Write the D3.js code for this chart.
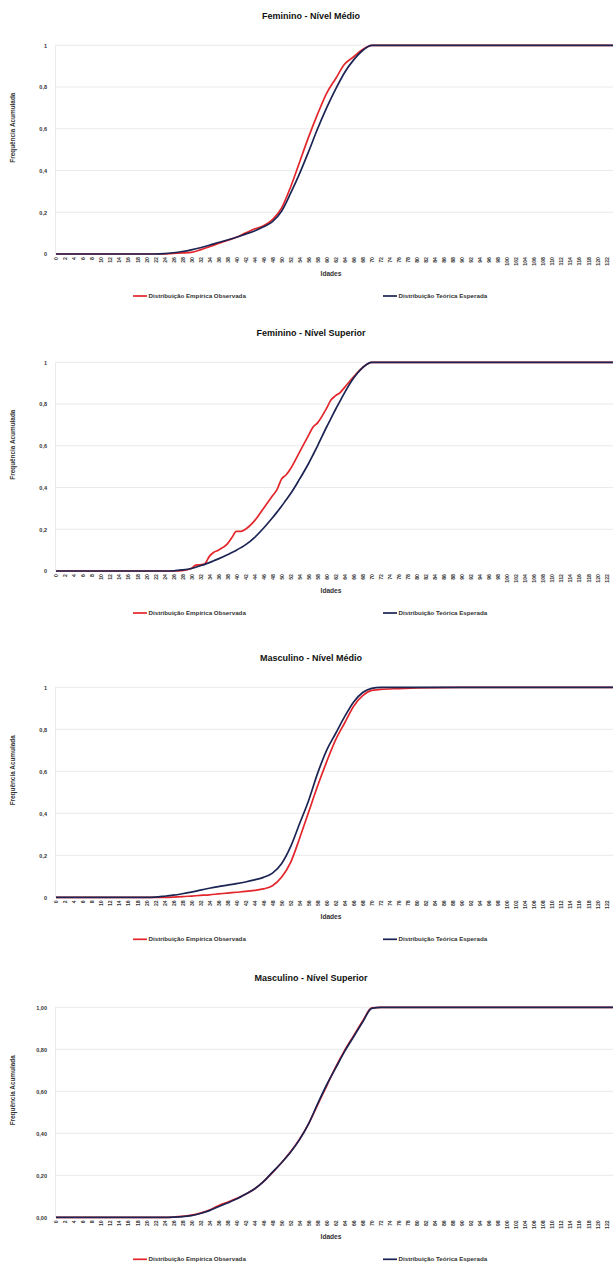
<!DOCTYPE html>
<html>
<head>
<meta charset="utf-8">
<script src="https://cdn.jsdelivr.net/npm/d3@7"></script>
<style>
  html, body { margin: 0; padding: 0; background: #fff; }
  svg { display: block; font-family: "Liberation Sans", Arial, sans-serif; }
</style>
</head>
<body>
<svg id="chart" width="613" height="1265"></svg>
<script>
// ---------- DATA ----------
const titles = ["Feminino - Nível Médio", "Feminino - Nível Superior", "Masculino - Nível Médio", "Masculino - Nível Superior"];
const seriesNames = ["Distribuição Empírica Observada", "Distribuição Teórica Esperada"];
const xAxisTitle = "Idades";
const yAxisTitle = "Frequência Acumulada";
const xTickLabels = [0,2,4,6,8,10,12,14,16,18,20,22,24,26,28,30,32,34,36,38,40,42,44,46,48,50,52,54,56,58,60,62,64,66,68,70,72,74,76,78,80,82,84,86,88,90,92,94,96,98,100,102,104,106,108,110,112,114,116,118,120,122];
const yTicks = [0, 0.2, 0.4, 0.6, 0.8, 1];

// Feminino - Nível Médio
const ages1 = [0,22,24,26,28,30,32,34,36,38,40,42,44,46,48,50,52,54,56,58,60,62,64,66,68,70,72,124];
const emp1  = [0,0,0,0.003,0.005,0.008,0.02,0.035,0.05,0.065,0.08,0.1,0.12,0.135,0.165,0.22,0.32,0.44,0.56,0.67,0.77,0.84,0.91,0.945,0.98,1,1,1];
const teo1  = [0,0,0.002,0.006,0.012,0.02,0.03,0.042,0.055,0.067,0.08,0.095,0.11,0.13,0.155,0.205,0.29,0.385,0.49,0.6,0.7,0.79,0.87,0.93,0.975,1,1,1];

// Feminino - Nível Superior
const ages2 = [0,24,26,28,30,31,32,33,34,35,36,38,39,40,41,42,44,46,48,49,50,51,52,54,56,57,58,60,61,62,63,64,66,68,70,72,124];
const emp2  = [0,0,0,0.002,0.012,0.028,0.03,0.035,0.07,0.09,0.1,0.13,0.16,0.19,0.19,0.2,0.24,0.3,0.36,0.39,0.44,0.46,0.49,0.57,0.65,0.69,0.71,0.78,0.82,0.84,0.855,0.88,0.93,0.975,1,1,1];
const teo2  = [0,0,0.001,0.005,0.012,0.018,0.025,0.032,0.04,0.049,0.058,0.078,0.089,0.1,0.112,0.125,0.16,0.205,0.255,0.282,0.31,0.34,0.37,0.44,0.515,0.557,0.6,0.69,0.732,0.775,0.815,0.855,0.925,0.975,1,1,1];

// Masculino - Nível Médio
const ages3 = [0,20,22,24,26,28,30,32,34,36,38,40,42,44,46,48,50,52,54,56,58,60,62,64,66,68,70,72,76,80,90,124];
const emp3  = [0,0,0,0,0.001,0.003,0.006,0.009,0.012,0.016,0.02,0.024,0.028,0.033,0.04,0.055,0.095,0.165,0.28,0.405,0.53,0.645,0.75,0.83,0.91,0.96,0.985,0.99,0.994,0.997,1,1];
const teo3  = [0,0,0.001,0.005,0.01,0.017,0.025,0.034,0.043,0.051,0.058,0.065,0.073,0.083,0.095,0.115,0.16,0.24,0.35,0.46,0.59,0.7,0.78,0.86,0.93,0.975,0.995,1,1,1,1,1];

// Masculino - Nível Superior
const ages4 = [0,24,26,28,30,32,34,36,38,40,42,44,46,48,50,52,54,56,58,60,62,64,66,68,70,72,124];
const emp4  = [0,0,0.001,0.004,0.01,0.02,0.034,0.055,0.072,0.089,0.11,0.135,0.17,0.213,0.26,0.312,0.372,0.445,0.535,0.625,0.715,0.795,0.865,0.935,0.997,1,1];
const teo4  = [0,0,0.001,0.003,0.008,0.018,0.032,0.05,0.068,0.087,0.11,0.135,0.17,0.215,0.26,0.31,0.37,0.445,0.54,0.63,0.71,0.79,0.86,0.93,0.995,1,1];

const panelAges = [ages1, ages2, ages3, ages4];
const panelEmp  = [emp1, emp2, emp3, emp4];
const panelTeo  = [teo1, teo2, teo3, teo4];
const yFormats  = [",", ",", ",", "2dec"];

// ---------- LAYOUT ----------
const colors = ["#e3262b", "#1b2453"];
const plotTops = [45.3, 362.3, 687.3, 1007.3];
const plotHeights = [208.7, 208.7, 210, 210];
const x0 = 56, pxPerAge = 4.51;

const svg = d3.select("#chart");
const fmtComma = v => (v === 0 ? "0" : v === 1 ? "1" : String(v).replace(".", ","));
const fmt2 = v => d3.format(".2f")(v).replace(".", ",");

titles.forEach((title, i) => {
  const top = plotTops[i], h = plotHeights[i], bottom = top + h;
  const x = d3.scaleLinear().domain([0, 124]).range([x0, x0 + 124 * pxPerAge]);
  const y = d3.scaleLinear().domain([0, 1]).range([bottom, top]);
  const g = svg.append("g");

  // title
  g.append("text").attr("x", 311).attr("y", top - 26)
    .attr("text-anchor", "middle").attr("font-size", 9).attr("font-weight", "bold")
    .attr("fill", "#111").text(title);

  // gridlines
  g.selectAll("line.grid").data(yTicks.filter(t => t > 0)).enter().append("line")
    .attr("x1", x(0) - 1).attr("x2", 613)
    .attr("y1", d => y(d)).attr("y2", d => y(d))
    .attr("stroke", "#e4e4e4").attr("stroke-width", 0.8);

  // y axis
  const fmt = yFormats[i] === "2dec" ? fmt2 : fmtComma;
  const yAxis = d3.axisLeft(y).tickValues(yTicks).tickFormat(fmt).tickSize(0).tickPadding(8);
  const ya = g.append("g").attr("transform", `translate(${x(0) - 1},0)`).call(yAxis);
  ya.select(".domain").attr("stroke", "#ddd").attr("stroke-width", 0.6);
  ya.selectAll("text").attr("font-size", 5.5).attr("font-weight", "bold")
    .attr("fill", "#333").attr("font-family", "Liberation Sans, Arial, sans-serif");

  // x axis
  const xAxis = d3.axisBottom(x).tickValues(xTickLabels).tickSize(0).tickFormat(d => d);
  const xa = g.append("g").attr("transform", `translate(0,${bottom})`).call(xAxis);
  xa.select(".domain").remove();
  xa.selectAll("text")
    .attr("font-size", 5.2).attr("font-weight", "bold").attr("fill", "#333")
    .attr("font-family", "Liberation Sans, Arial, sans-serif")
    .attr("text-anchor", "end").attr("dy", "0.35em")
    .attr("transform", "translate(0,3) rotate(-90)")
    .attr("x", 0).attr("y", 0);

  // axis titles
  g.append("text").attr("x", 331).attr("y", bottom + 22)
    .attr("text-anchor", "middle").attr("font-size", 6.6).attr("font-weight", "bold")
    .attr("fill", "#333").text(xAxisTitle);
  g.append("text")
    .attr("transform", `translate(15,${top + h / 2 - 22}) rotate(-90)`)
    .attr("text-anchor", "middle").attr("font-size", 6.4).attr("font-weight", "bold")
    .attr("fill", "#333").text(yAxisTitle);

  // lines
  const ages = panelAges[i];
  const series = [panelEmp[i], panelTeo[i]];
  const line = d3.line().x(d => x(d[0])).y(d => y(d[1])).curve(d3.curveMonotoneX);
  const clipId = "clip" + i;
  svg.append("clipPath").attr("id", clipId).append("rect")
    .attr("x", x(0) - 2).attr("y", top - 3).attr("width", 613).attr("height", h + 6);
  [0, 1].forEach(s => {
    g.append("path")
      .datum(ages.map((a, k) => [a, series[s][k]]))
      .attr("clip-path", `url(#${clipId})`)
      .attr("fill", "none").attr("stroke", colors[s]).attr("stroke-width", 1.7)
      .attr("stroke-linejoin", "round")
      .attr("d", line);
  });

  // legend
  const ly = bottom + 42;
  const legendX = [133, 383];
  seriesNames.forEach((name, s) => {
    g.append("line").attr("x1", legendX[s]).attr("x2", legendX[s] + 14)
      .attr("y1", ly).attr("y2", ly).attr("stroke", colors[s]).attr("stroke-width", 1.7);
    g.append("text").attr("x", legendX[s] + 15.5).attr("y", ly).attr("dy", "0.35em")
      .attr("font-size", 6.2).attr("font-weight", "bold").attr("fill", "#333").text(name);
  });
});
</script>
</body>
</html>
